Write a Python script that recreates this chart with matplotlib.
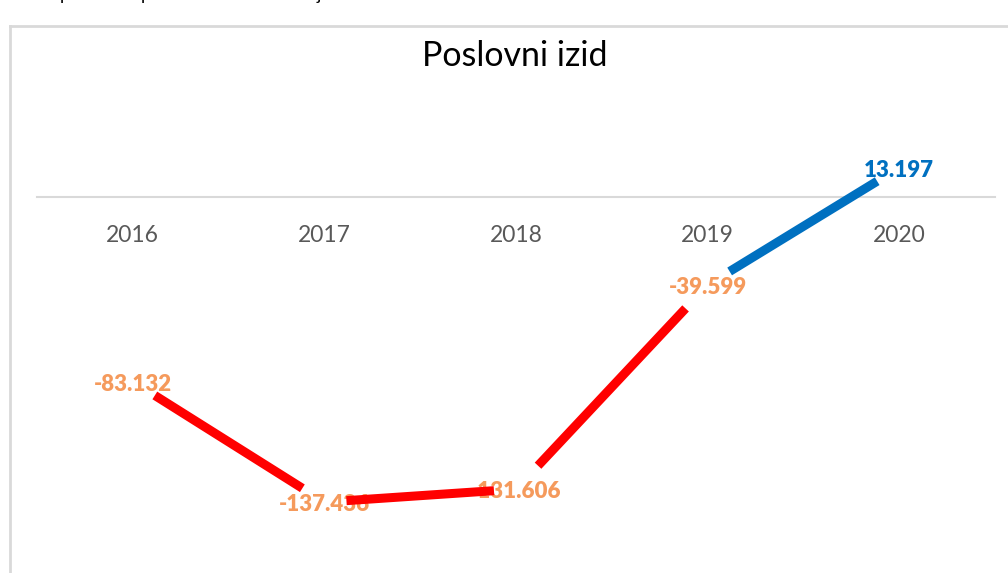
import numpy as np
import matplotlib.pyplot as plt
from matplotlib.lines import Line2D

# Data
years = ['2016', '2017', '2018', '2019', '2020']
izid = [-83.132, -137.436, -131.606, -39.599, 13.197]
labels = ['-83.132', '-137.436', '-131.606', '-39.599', '13.197']

neg_line = '#FF0000'
pos_line = '#0070C0'
neg_lab = '#F59A5C'
pos_lab = '#0070C0'

plt.rcParams['font.family'] = ['Lato', 'DejaVu Sans']

fig = plt.figure(figsize=(10.08, 5.73), dpi=100)
ax = fig.add_axes([37/1008, 13/573, 958/1008, 460/573])

x = np.arange(len(years))
y = np.array(izid)

# segments trimmed at both ends, colour by sign of end point
trim = 0.115
for i in range(len(x) - 1):
    x0, x1 = x[i], x[i+1]
    y0, y1 = y[i], y[i+1]
    dx, dy = x1 - x0, y1 - y0
    c = pos_line if y1 > 0 else neg_line
    ax.plot([x0 + trim*dx, x1 - trim*dx], [y0 + trim*dy, y1 - trim*dy],
            color=c, lw=6.5, solid_capstyle='butt', zorder=3)

# data labels (under the lines)
for xi, yi, lab in zip(x, y, labels):
    ax.annotate(lab, (xi, yi), xytext=(0, -2), textcoords='offset points',
                ha='center', va='center', fontsize=16, fontweight='heavy',
                color=pos_lab if yi > 0 else neg_lab, zorder=2)

ax.set_xlim(-0.5, 4.5)
ax.set_ylim(-163.5, 43.7)
for s in ['top', 'left', 'right']:
    ax.spines[s].set_visible(False)
ax.spines['bottom'].set_position(('data', 0))
ax.spines['bottom'].set_color('#D9D9D9')
ax.spines['bottom'].set_linewidth(1.5)
ax.set_yticks([])
ax.set_xticks(x)
ax.set_xticklabels(years, fontsize=16.5, color='#595959')
ax.tick_params(axis='x', length=0, pad=20)
ax.patch.set_alpha(0)

# title
fig.text(515/1008, 1 - 56/573, 'Poslovni izid', ha='center', va='center',
         fontsize=24.5, color='black')

# chart border
bc = '#D9D9D9'
fig.add_artist(Line2D([10/1008, 1], [1 - 26/573, 1 - 26/573], color=bc, lw=2))
fig.add_artist(Line2D([10/1008, 10/1008], [0, 1 - 26/573], color=bc, lw=2))

# bits of the text above, cut off
for px, ch in [(65, 'p'), (146, 'p'), (319, 'j')]:
    fig.text(px/1008, 1.0, ch, ha='center', va='baseline', fontsize=13, color='black')

fig.savefig('out.png', dpi=100)
